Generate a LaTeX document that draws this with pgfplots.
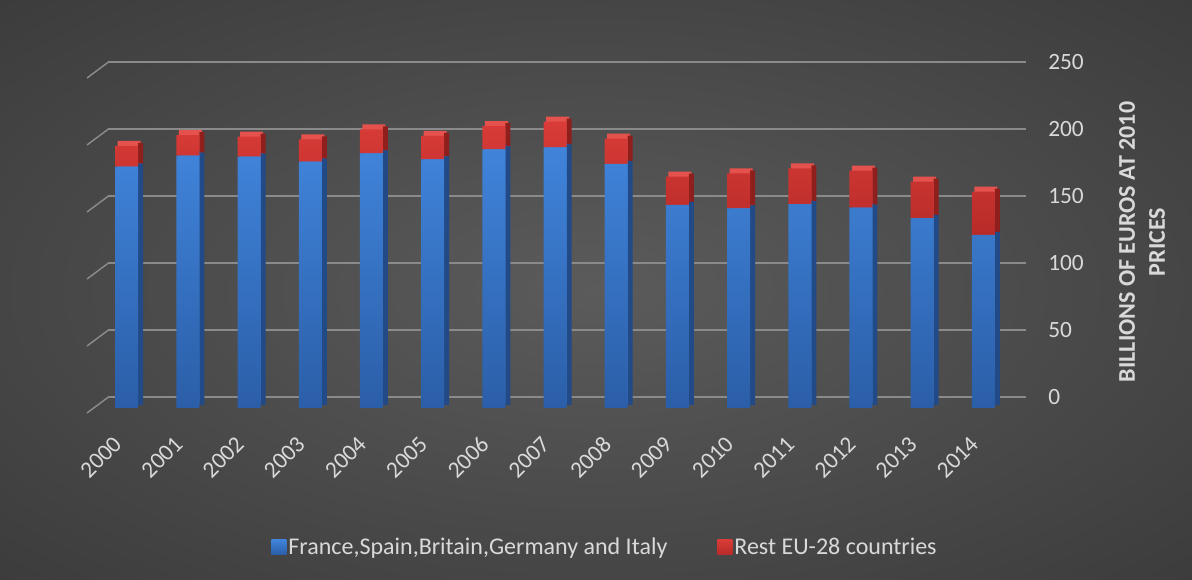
\documentclass[border=0pt]{standalone}
\usepackage{fontspec}
\setmainfont{Carlito}
\usepackage{pgfplots}
\pgfplotsset{compat=1.18}
\usepackage{pgfplotstable}

\definecolor{bgin}{HTML}{5B5B5B}
\definecolor{bgout}{HTML}{1C1C1C}
\definecolor{gridc}{HTML}{8A8A8A}
\definecolor{txt}{HTML}{D9D9D9}
\definecolor{blueT}{HTML}{4084DA}
\definecolor{blueB}{HTML}{2B5EA8}
\definecolor{blueS}{HTML}{214A86}
\definecolor{redT}{HTML}{D93C38}
\definecolor{redB}{HTML}{B82B28}
\definecolor{redS}{HTML}{8E1F1C}
\definecolor{redTop}{HTML}{E5524E}

\pgfdeclareradialshading{bgshade}{\pgfpoint{0bp}{0bp}}{color(0bp)=(bgin); color(72bp)=(bgout)}

\pgfplotstableread{
i blue red
0 180.1 15.6
1 188.3 15.4
2 187.5 15.0
3 183.8 16.7
4 190.1 17.9
5 185.6 17.4
6 193.0 17.4
7 194.5 19.2
8 182.1 18.9
9 151.5 21.1
10 149.0 26.0
11 152.2 26.7
12 149.5 27.6
13 141.6 27.3
14 129.1 32.3
}\datatable

\pgfplotsset{
  barframe/.style={
    scale only axis, width=688.35pt, height=251.25pt,
    anchor=south west,
    xmin=-0.5, xmax=14.5, ymin=0, ymax=250,
    ybar stacked, bar width=17.25pt,
  },
}

\begin{document}
\begin{tikzpicture}[x=0.75pt,y=0.75pt]
\useasboundingbox (0,0) rectangle (1192,580);
\shade[shading=bgshade] (0,0) rectangle (1192,580);

% back wall grid
\begin{axis}[
  at={(81pt,137.25pt)}, anchor=south west,
  scale only axis, width=688.5pt, height=251.25pt,
  xmin=0, xmax=1, ymin=0, ymax=250,
  xtick=\empty, ytick={0,50,...,250},
  ymajorgrids, grid style={gridc, line width=1.1pt},
  axis line style={draw=none},
  major tick length=0pt,
  yticklabel pos=right,
  /pgf/number format/assume math mode=true,
  yticklabel style={text=txt, font=\fontsize{17.5}{21}\selectfont, anchor=west, inner sep=0pt, xshift=16.5pt},
]
\end{axis}
\foreach \k in {0,...,5} \draw[gridc, line width=1.1pt] (108.5,{183+67*\k}) -- (87,{167+67*\k});

% top faces (behind)
\begin{axis}[barframe, at={(72.075pt,132.75pt)}, hide axis, bar shift=1.875pt]
\addplot[draw=none, fill=blueT] table[x=i,y=blue]{\datatable};
\addplot[draw=none, fill=redTop] table[x=i,y=red]{\datatable};
\end{axis}
% side faces
\begin{axis}[barframe, at={(72.075pt,131.25pt)}, hide axis, bar shift=10.5pt, bar width=3.75pt]
\addplot[draw=none, fill=blueS] table[x=i,y=blue]{\datatable};
\addplot[draw=none, fill=redS] table[x=i,y=red]{\datatable};
\end{axis}
% front faces
\begin{axis}[barframe, at={(72.075pt,129pt)},
  axis line style={draw=none}, major tick length=0pt,
  ytick=\empty, xtick={0,...,14},
  xticklabels={2000,2001,2002,2003,2004,2005,2006,2007,2008,2009,2010,2011,2012,2013,2014},
  xticklabel style={yshift=-20pt, xshift=-11pt, rotate=45, anchor=north east, inner sep=0pt, text=txt, font=\fontsize{17.5}{21}\selectfont},
  legend style={draw=none, fill=none, text=txt, font=\fontsize{18}{21}\selectfont,
    at={(0.5545,-0.415)}, anchor=center, legend columns=2,
    nodes={inner sep=1.5pt},
    /tikz/every even column/.append style={column sep=36pt}},
]
\addplot[draw=none, top color=blueT, bottom color=blueB,
  legend image code/.code={\shade[top color=blueT, bottom color=blueB] (0pt,-5.6pt) rectangle (11.25pt,5.6pt);}]
  table[x=i,y=blue]{\datatable};
\addlegendentry{France,Spain,Britain,Germany and Italy}
\addplot[draw=none, top color=redT, bottom color=redB,
  legend image code/.code={\shade[top color=redT, bottom color=redB] (0pt,-5.6pt) rectangle (11.25pt,5.6pt);}]
  table[x=i,y=red]{\datatable};
\addlegendentry{Rest EU-28 countries}
\end{axis}

\node[rotate=90, align=center, text=txt, font=\bfseries\fontsize{18}{22.5}\selectfont] at (1142,338) {BILLIONS OF EUROS AT 2010\\PRICES};
\end{tikzpicture}
\end{document}
